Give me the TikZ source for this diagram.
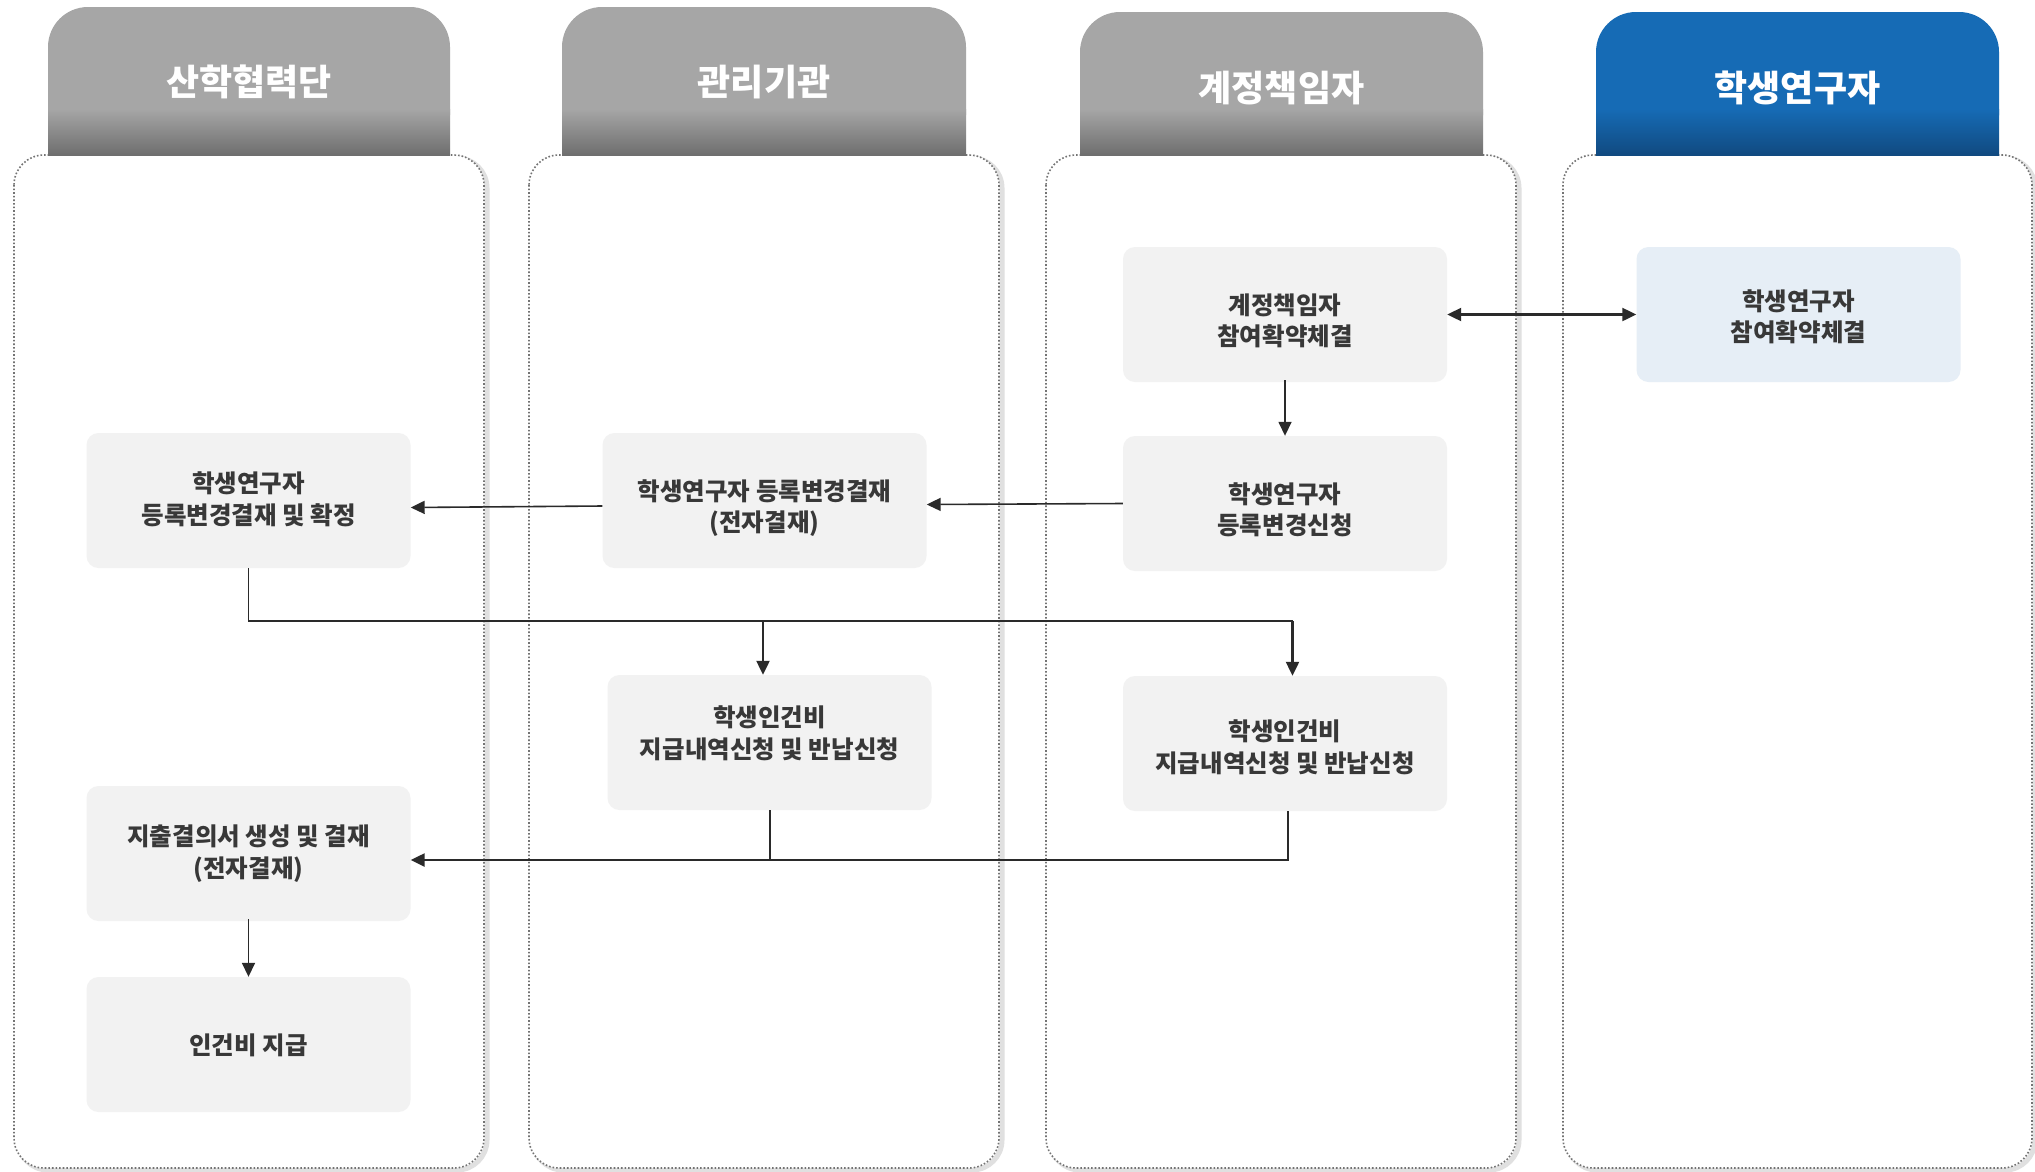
\documentclass[tikz,border=0pt]{standalone}
\usepackage{fontspec}
\setmainfont{Noto Sans CJK KR}
\usetikzlibrary{arrows.meta,positioning,shadings}
\definecolor{boxgray}{HTML}{F2F2F2}
\definecolor{boxblue}{HTML}{E6EEF6}
\definecolor{hdgray}{HTML}{A6A6A6}
\definecolor{hdgraydk}{HTML}{6E6E6E}
\definecolor{hdblue}{HTML}{166BB5}
\definecolor{hdbluedk}{HTML}{114A80}
\definecolor{txt}{HTML}{383838}
\definecolor{ln}{HTML}{2A2A2A}
\tikzset{
  procbox/.style={rectangle, rounded corners=12pt, fill=boxgray, minimum width=324pt, minimum height=135pt, inner sep=0pt},
  ptext/.style={align=center, text=txt, font=\fontsize{24.5}{31.5}\selectfont\bfseries, inner sep=0pt},
  hdtext/.style={text=white, font=\fontsize{36}{40}\selectfont\bfseries},
  lane/.style={draw=black!55, dotted, line width=1.6pt, rounded corners=30pt, fill=white},
  laneshadow/.style={draw=black!12, line width=5pt, rounded corners=30pt},
  conn/.style={draw=ln, line width=1.6pt, -{Triangle[length=14pt,width=13pt]}},
  thinline/.style={draw=ln, line width=1.3pt},
}
\begin{document}
\begin{tikzpicture}[x=1pt,y=-1pt]
\useasboundingbox (0,0) rectangle (2035,1171);
\fill[white] (0,0) rectangle (2035,1171);

% lanes
\foreach \xa/\xb in {14/484, 529/999, 1046/1516, 1563/2032}{
  \draw[laneshadow] (\xa+4,158) rectangle (\xb+3,1170);
  \draw[lane] (\xa,155) rectangle (\xb,1168);
}

% headers
\foreach \xa/\xb/\ya/\c/\cd in {48/450/7/hdgray/hdgraydk, 562/966/7/hdgray/hdgraydk, 1080/1483/12/hdgray/hdgraydk, 1596/1999/12/hdblue/hdbluedk}{
  \fill[\c, rounded corners=40pt] (\xa,\ya) rectangle (\xb,155);
  \fill[\c] (\xa,80) rectangle (\xb,155);
  \shade[top color=\c, bottom color=\cd] (\xa,109) rectangle (\xb,155);
}

\node[hdtext] (h1) at (249,82) {산학협력단};
\node[hdtext] (h2) at (764,82) {관리기관};
\node[hdtext] (h3) at (1281.5,88) {계정책임자};
\node[hdtext] (h4) at (1797.5,88) {학생연구자};

% process boxes
\node[procbox] (A1) at (1285,314.5) {};
\node[procbox, fill=boxblue] (A2) at (1798.5,314.5) {};
\node[procbox] (B3) at (1285,503.5) {};
\node[procbox] (B2) at (764.5,500.5) {};
\node[procbox] (B1) at (248.5,500.5) {};
\node[procbox] (C2) at (769.5,742.5) {};
\node[procbox] (C3) at (1285,743.5) {};
\node[procbox] (D1) at (248.5,853.5) {};
\node[procbox] (E1) at (248.5,1044.5) {};

\node[ptext] (A1t) at ([yshift=-6.5pt]A1.center) {계정책임자\\참여확약체결};
\node[ptext] (A2t) at ([yshift=-2.5pt]A2.center) {학생연구자\\참여확약체결};
\node[ptext] (B3t) at ([yshift=-6.5pt]B3.center) {학생연구자\\등록변경신청};
\node[ptext] (B2t) at ([yshift=-7.5pt]B2.center) {학생연구자 등록변경결재\\(전자결재)};
\node[ptext] (B1t) at ([yshift=1pt]B1.center) {학생연구자\\등록변경결재 및 확정};
\node[ptext] (C2t) at ([yshift=9pt]C2.center) {학생인건비\\지급내역신청 및 반납신청};
\node[ptext] (C3t) at ([yshift=-4pt]C3.center) {학생인건비\\지급내역신청 및 반납신청};
\node[ptext] (D1t) at (D1.center) {지출결의서 생성 및 결재\\(전자결재)};
\node[ptext] (E1t) at ([yshift=-1pt]E1.center) {인건비 지급};

% connectors
\draw[conn, line width=2.2pt, {Triangle[length=14pt,width=13pt]}-{Triangle[length=14pt,width=13pt]}] (A1.east) -- (A2.west);
\draw[conn] ([yshift=2pt]A1.south) -- (B3.north);
\draw[conn] (B3.west) -- ([yshift=-4pt]B2.east);
\draw[conn] ([yshift=-5.5pt]B2.west) -- ([yshift=-7pt]B1.east);

\coordinate (t0) at (248.5,621);
\coordinate (t1) at (763,621);
\coordinate (t2) at (1292.5,621);
\draw[thinline] (B1.south) -- (t0) -- (t2);
\draw[conn, line width=2.2pt] (t2) -- (t2 |- C3.north);
\draw[conn, line width=2.2pt] (t1) -- (t1 |- C2.north);

\coordinate (b0) at (1288,860);
\coordinate (b1) at (770,860);
\draw[conn, line width=2.4pt] (b0 |- C3.south) -- (b0) -- (b0 -| D1.east);
\draw[thinline, line width=1.1pt] (b1 |- C2.south) -- (b1);
\draw[conn] ([yshift=2pt]D1.south) -- (E1.north);
\end{tikzpicture}
\end{document}
